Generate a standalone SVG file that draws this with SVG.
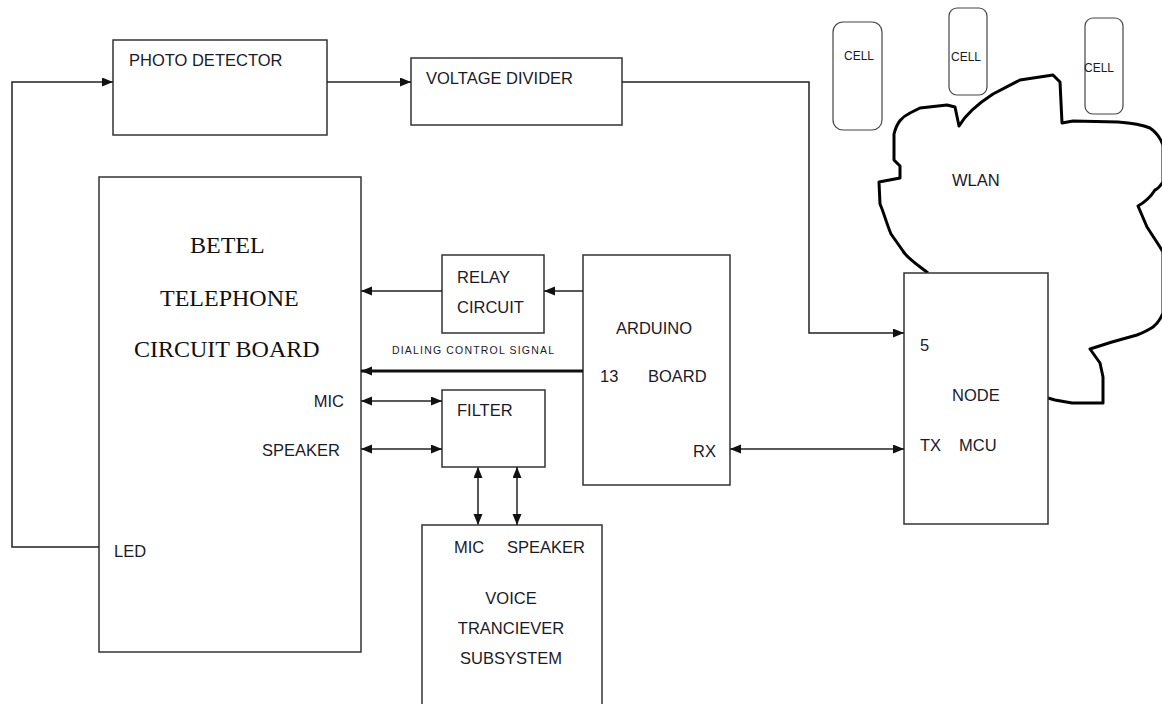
<svg xmlns="http://www.w3.org/2000/svg" width="1162" height="704" viewBox="0 0 1162 704">
<style>
.box{fill:#fff;stroke:#333;stroke-width:1.5}
.cell{fill:none;stroke:#444;stroke-width:1.2}
.t{font-family:"Liberation Sans",Arial,sans-serif;font-size:16.5px;fill:#1a1a2a}
.s{font-family:"Liberation Sans",Arial,sans-serif;font-size:12px;fill:#1a1a2a}
.serif{font-family:"Liberation Serif","Times New Roman",serif;font-size:24px;fill:#111}
.ln{fill:none;stroke:#222;stroke-width:1.5}
.gl{fill:none;stroke:#555;stroke-width:2}
</style>
<defs>
<marker id="a" markerUnits="userSpaceOnUse" markerWidth="12" markerHeight="10" refX="11" refY="4.5" orient="auto-start-reverse">
<path d="M0,0 L11,4.5 L0,9 z" fill="#111"/>
</marker>
</defs>
<rect width="1162" height="704" fill="#fff"/>

<g id="cloud">
<path d="M928,273 C915,263 906,257 903,251 L891,234 C886,222 884,213 880,204 L879,182 L900,178 L900,166 L894,160 L894,134 C897,122 902,117 910,113 L920,108 L947,105 L955,107 L959,126 C966,114 976,105 993,94 L1020,80 L1053,75 L1060,82 L1062,123 L1073,121 L1118,122 C1132,123 1143,125 1150,128 C1156,132 1160,137 1163,145 L1163,182 C1160,186 1158,189 1155,190 C1150,198 1145,202 1138,206 L1147,227 L1160,247 L1163,252 L1163,313 C1160,320 1157,324 1153,327 C1147,331 1142,333 1137,335 L1112,342 L1090,349 L1100,363 L1103,377 L1103,403 L1072,403 L1055,400 L1048,398" fill="none" stroke="#000" stroke-width="3" stroke-linejoin="round"/>
<text class="t" x="952" y="186" font-size="17px">WLAN</text>
</g>

<g id="cell1">
<rect class="cell" x="833" y="22" width="49" height="108" rx="10"/>
<text class="s" x="844" y="60">CELL</text>
</g>
<g id="cell2">
<rect class="cell" x="949" y="8" width="38" height="87" rx="8"/>
<text class="s" x="951" y="61">CELL</text>
</g>
<g id="cell3">
<rect class="cell" x="1085" y="18" width="38" height="96" rx="8"/>
<text class="s" x="1084" y="72">CELL</text>
</g>

<g id="photo-detector">
<rect class="box" x="113" y="40" width="214" height="95"/>
<text class="t" x="129" y="66">PHOTO DETECTOR</text>
</g>

<g id="voltage-divider">
<rect class="box" x="411" y="58" width="211" height="67"/>
<text class="t" x="426" y="84">VOLTAGE DIVIDER</text>
</g>

<g id="betel">
<rect class="box" x="99" y="177" width="262" height="475"/>
<text class="serif" x="190" y="253">BETEL</text>
<text class="serif" x="160" y="306">TELEPHONE</text>
<text class="serif" x="134" y="357">CIRCUIT BOARD</text>
<text class="t" x="344" y="407" text-anchor="end">MIC</text>
<text class="t" x="340" y="456" text-anchor="end">SPEAKER</text>
<text class="t" x="114" y="557">LED</text>
</g>

<g id="relay">
<rect class="box" x="442" y="255" width="102" height="78"/>
<text class="t" x="457" y="283">RELAY</text>
<text class="t" x="457" y="313">CIRCUIT</text>
</g>

<g id="filter">
<rect class="box" x="442" y="390" width="103" height="77"/>
<text class="t" x="457" y="416">FILTER</text>
</g>

<g id="arduino">
<rect class="box" x="583" y="255" width="147" height="230"/>
<text class="t" x="616" y="334">ARDUINO</text>
<text class="t" x="600" y="382">13</text>
<text class="t" x="648" y="382">BOARD</text>
<text class="t" x="693" y="457">RX</text>
</g>

<g id="node-mcu">
<rect class="box" x="904" y="273" width="144" height="251"/>
<text class="t" x="920" y="351">5</text>
<text class="t" x="952" y="401">NODE</text>
<text class="t" x="920" y="451">TX</text>
<text class="t" x="959" y="451">MCU</text>
</g>

<g id="voice">
<rect class="box" x="422" y="525" width="180" height="190"/>
<text class="t" x="454" y="553">MIC</text>
<text class="t" x="507" y="553">SPEAKER</text>
<text class="t" x="511" y="604" text-anchor="middle">VOICE</text>
<text class="t" x="511" y="634" text-anchor="middle">TRANCIEVER</text>
<text class="t" x="511" y="664" text-anchor="middle">SUBSYSTEM</text>
</g>

<g id="connectors">
<polyline class="ln" points="99,547 12,547 12,82 113,82" marker-end="url(#a)"/>
<line class="ln" x1="327" y1="82" x2="411" y2="82" marker-end="url(#a)"/>
<polyline class="ln" points="622,82 809,82 809,333 904,333" marker-end="url(#a)"/>
<line class="ln" x1="583" y1="291" x2="544" y2="291" marker-end="url(#a)"/>
<line class="ln" x1="442" y1="291" x2="361" y2="291" marker-end="url(#a)"/>
<line x1="583" y1="371" x2="361" y2="371" stroke="#111" stroke-width="3" marker-end="url(#a)"/>
<text x="392" y="354" font-family="'Liberation Sans',Arial,sans-serif" font-size="10.5px" fill="#1a1a2a" textLength="162" lengthAdjust="spacing">DIALING CONTROL SIGNAL</text>
<line class="ln" x1="361" y1="401" x2="442" y2="401" marker-start="url(#a)" marker-end="url(#a)"/>
<line class="ln" x1="361" y1="449" x2="442" y2="449" marker-start="url(#a)" marker-end="url(#a)"/>
<line class="gl" x1="478" y1="467" x2="478" y2="525" marker-start="url(#a)" marker-end="url(#a)"/>
<line class="ln" x1="517" y1="467" x2="517" y2="525" marker-start="url(#a)" marker-end="url(#a)"/>
<line class="ln" x1="730" y1="449" x2="904" y2="449" marker-start="url(#a)" marker-end="url(#a)"/>
</g>
</svg>
